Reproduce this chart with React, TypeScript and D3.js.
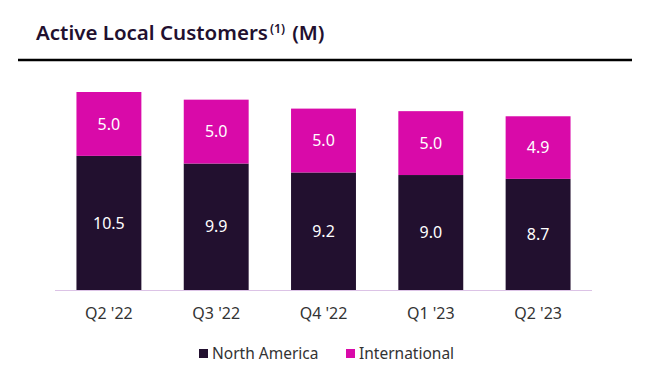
import React from "react";
import * as d3 from "d3";

const categories = ["Q2 '22", "Q3 '22", "Q4 '22", "Q1 '23", "Q2 '23"];
const northAmerica = [10.5, 9.9, 9.2, 9.0, 8.7];
const international = [5.0, 5.0, 5.0, 5.0, 4.9];
const seriesNames = ["North America", "International"];
const seriesColors = ["#22102f", "#d90aa9"];

const W = 651;
const H = 379;
const FONT = "'Noto Sans', 'Open Sans', sans-serif";

export default function App() {
  const x = d3.scaleBand<string>().domain(categories).range([55, 592]).paddingInner(0.395).paddingOuter(0.2);
  const y = d3.scaleLinear().domain([0, 15.5]).range([290, 92]);
  const rows = categories.map((c, i) => ({ cat: c, na: northAmerica[i], intl: international[i] }));
  const stack = d3.stack<any>().keys(["na", "intl"])(rows);

  return (
    <svg width={W} height={H} style={{ position: "absolute", left: 0, top: 0, background: "#fff" }}>
      <text x={36} y={40} fontFamily={FONT} fontSize={20.5} fontWeight={600} fill="#22102f">
        Active Local Customers
        <tspan fontSize={12.5} dy={-7} dx={2}>(1)</tspan>
        <tspan dy={7} dx={7}>(M)</tspan>
      </text>
      <line x1={18} x2={632} y1={60} y2={60} stroke="#000" strokeWidth={2.5} />

      {stack.map((s, si) =>
        s.map((d, i) => {
          const cat = categories[i];
          const x0 = x(cat)!;
          const y0 = y(d[1]);
          const y1 = y(d[0]);
          const val = d[1] - d[0];
          return (
            <g key={`${si}-${i}`}>
              <rect x={x0} y={y0} width={x.bandwidth()} height={y1 - y0} fill={seriesColors[si]} />
              <text
                x={x0 + x.bandwidth() / 2}
                y={(y0 + y1) / 2}
                dy="0.35em"
                textAnchor="middle"
                fontFamily={FONT}
                fontSize={16}
                fill="#fff"
              >
                {val.toFixed(1)}
              </text>
            </g>
          );
        })
      )}

      <line x1={55} x2={592} y1={290.5} y2={290.5} stroke="#dcc3e6" strokeWidth={1} />

      {categories.map((c) => (
        <text
          key={c}
          x={x(c)! + x.bandwidth() / 2}
          y={319}
          textAnchor="middle"
          fontFamily={FONT}
          fontSize={16}
          fill="#333"
        >
          {c}
        </text>
      ))}

      {seriesNames.map((n, i) => {
        const lx = i === 0 ? 199 : 346;
        return (
          <g key={n}>
            <rect x={lx} y={349} width={9} height={9} fill={seriesColors[i]} />
            <text x={lx + 13} y={359} fontFamily={FONT} fontSize={15.5} fill="#333">
              {n}
            </text>
          </g>
        );
      })}
    </svg>
  );
}
